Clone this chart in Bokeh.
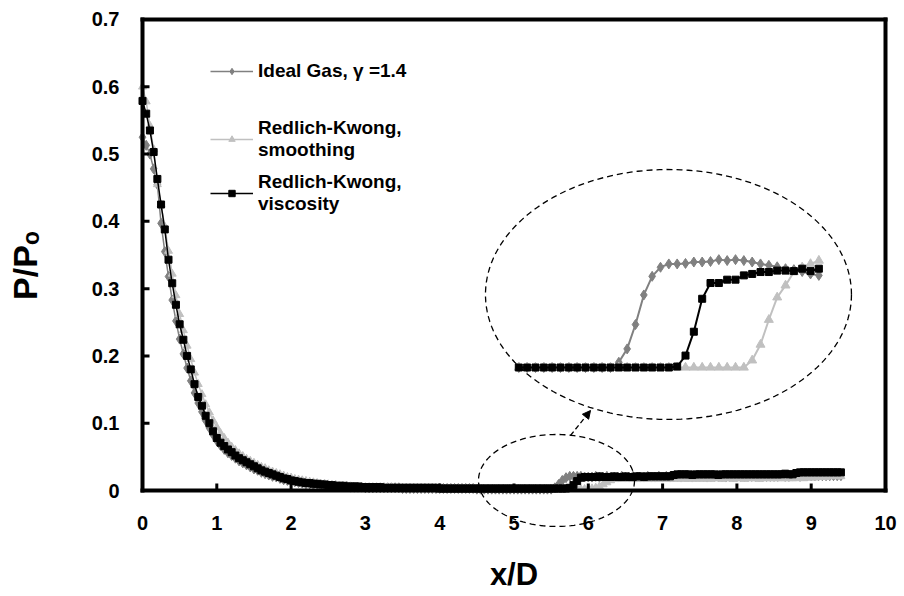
import numpy as np
from bokeh.plotting import figure
from bokeh.models import (Range1d, FixedTicker, CustomJSTickFormatter, Legend, LegendItem,
                          PolyAnnotation, Arrow, NormalHead)
from bokeh.embed import file_html
from bokeh.resources import INLINE

# ---------------- data ----------------
x_over_d = [
    0.0, 0.05, 0.1, 0.15, 0.2, 0.25, 0.3, 0.35, 0.4, 0.45,
    0.5, 0.55, 0.6, 0.65, 0.7, 0.75, 0.8, 0.85, 0.9, 0.95,
    1.0, 1.05, 1.1, 1.15, 1.2, 1.25, 1.3, 1.35, 1.4, 1.45,
    1.5, 1.55, 1.6, 1.65, 1.7, 1.75, 1.8, 1.85, 1.9, 1.95,
    2.0, 2.05, 2.1, 2.15, 2.2, 2.25, 2.3, 2.35, 2.4, 2.45,
    2.5, 2.55, 2.6, 2.65, 2.7, 2.75, 2.8, 2.85, 2.9, 2.95,
    3.0, 3.05, 3.1, 3.15, 3.2, 3.25, 3.3, 3.35, 3.4, 3.45,
    3.5, 3.55, 3.6, 3.65, 3.7, 3.75, 3.8, 3.85, 3.9, 3.95,
    4.0, 4.05, 4.1, 4.15, 4.2, 4.25, 4.3, 4.35, 4.4, 4.45,
    4.5, 4.55, 4.6, 4.65, 4.7, 4.75, 4.8, 4.85, 4.9, 4.95,
    5.0, 5.05, 5.1, 5.15, 5.2, 5.25, 5.3, 5.35, 5.4, 5.45,
    5.5, 5.55, 5.6, 5.65, 5.7, 5.75, 5.8, 5.85, 5.9, 5.95,
    6.0, 6.05, 6.1, 6.15, 6.2, 6.25, 6.3, 6.35, 6.4, 6.45,
    6.5, 6.55, 6.6, 6.65, 6.7, 6.75, 6.8, 6.85, 6.9, 6.95,
    7.0, 7.05, 7.1, 7.15, 7.2, 7.25, 7.3, 7.35, 7.4, 7.45,
    7.5, 7.55, 7.6, 7.65, 7.7, 7.75, 7.8, 7.85, 7.9, 7.95,
    8.0, 8.05, 8.1, 8.15, 8.2, 8.25, 8.3, 8.35, 8.4, 8.45,
    8.5, 8.55, 8.6, 8.65, 8.7, 8.75, 8.8, 8.85, 8.9, 8.95,
    9.0, 9.05, 9.1, 9.15, 9.2, 9.25, 9.3, 9.35, 9.4,
]

p_ideal_gas = [
    0.525, 0.513, 0.500, 0.478, 0.455, 0.397, 0.355, 0.318, 0.283, 0.252,
    0.225, 0.203, 0.182, 0.163, 0.145, 0.130, 0.117, 0.104, 0.093, 0.083,
    0.074, 0.067, 0.061, 0.056, 0.052, 0.048, 0.044, 0.041, 0.038, 0.035,
    0.032, 0.030, 0.027, 0.025, 0.023, 0.021, 0.020, 0.018, 0.016, 0.015,
    0.014, 0.013, 0.012, 0.011, 0.010, 0.010, 0.009, 0.009, 0.008, 0.008,
    0.007, 0.007, 0.007, 0.006, 0.006, 0.006, 0.005, 0.005, 0.005, 0.005,
    0.004, 0.004, 0.004, 0.004, 0.004, 0.004, 0.004, 0.004, 0.004, 0.004,
    0.003, 0.003, 0.003, 0.003, 0.003, 0.003, 0.003, 0.003, 0.003, 0.003,
    0.003, 0.003, 0.003, 0.003, 0.003, 0.003, 0.003, 0.003, 0.003, 0.003,
    0.002, 0.002, 0.002, 0.002, 0.002, 0.002, 0.002, 0.002, 0.002, 0.002,
    0.002, 0.002, 0.002, 0.002, 0.002, 0.002, 0.002, 0.002, 0.002, 0.002,
    0.002, 0.004, 0.009, 0.015, 0.019, 0.021, 0.021, 0.021, 0.021, 0.020,
    0.020, 0.020, 0.021, 0.020, 0.020, 0.021, 0.020, 0.020, 0.020, 0.021,
    0.020, 0.020, 0.021, 0.020, 0.020, 0.020, 0.021, 0.020, 0.020, 0.021,
    0.020, 0.021, 0.020, 0.021, 0.021, 0.020, 0.021, 0.021, 0.020, 0.021,
    0.021, 0.021, 0.020, 0.021, 0.021, 0.021, 0.021, 0.020, 0.021, 0.021,
    0.021, 0.021, 0.021, 0.021, 0.021, 0.021, 0.021, 0.021, 0.021, 0.021,
    0.021, 0.021, 0.022, 0.021, 0.021, 0.022, 0.022, 0.021, 0.022, 0.022,
    0.022, 0.022, 0.022, 0.022, 0.022, 0.022, 0.022, 0.022, 0.022,
]

p_rk_smoothing = [
    0.600, 0.578, 0.542, 0.507, 0.455, 0.425, 0.392, 0.356, 0.322, 0.290,
    0.262, 0.238, 0.215, 0.195, 0.175, 0.158, 0.143, 0.128, 0.116, 0.104,
    0.094, 0.085, 0.078, 0.071, 0.065, 0.060, 0.055, 0.051, 0.047, 0.044,
    0.041, 0.038, 0.035, 0.033, 0.030, 0.028, 0.026, 0.024, 0.022, 0.020,
    0.019, 0.017, 0.016, 0.015, 0.014, 0.013, 0.012, 0.011, 0.010, 0.010,
    0.009, 0.008, 0.008, 0.007, 0.007, 0.006, 0.006, 0.005, 0.005, 0.004,
    0.004, 0.004, 0.004, 0.004, 0.004, 0.004, 0.004, 0.004, 0.003, 0.003,
    0.003, 0.003, 0.003, 0.003, 0.003, 0.003, 0.003, 0.003, 0.003, 0.003,
    0.002, 0.002, 0.002, 0.002, 0.002, 0.002, 0.002, 0.002, 0.002, 0.002,
    0.002, 0.002, 0.002, 0.002, 0.002, 0.002, 0.002, 0.002, 0.002, 0.002,
    0.002, 0.002, 0.002, 0.002, 0.002, 0.002, 0.002, 0.002, 0.002, 0.002,
    0.002, 0.002, 0.002, 0.002, 0.002, 0.002, 0.002, 0.002, 0.002, 0.002,
    0.002, 0.003, 0.004, 0.006, 0.009, 0.012, 0.015, 0.017, 0.017, 0.017,
    0.017, 0.018, 0.017, 0.017, 0.018, 0.017, 0.017, 0.018, 0.017, 0.017,
    0.018, 0.017, 0.017, 0.018, 0.017, 0.018, 0.017, 0.017, 0.018, 0.017,
    0.018, 0.017, 0.018, 0.017, 0.018, 0.018, 0.017, 0.018, 0.018, 0.017,
    0.018, 0.018, 0.017, 0.018, 0.018, 0.018, 0.017, 0.018, 0.018, 0.018,
    0.018, 0.018, 0.018, 0.018, 0.018, 0.018, 0.018, 0.019, 0.018, 0.019,
    0.019, 0.019, 0.020, 0.020, 0.020, 0.021, 0.021, 0.021, 0.021,
]

p_rk_viscosity = [
    0.579, 0.560, 0.535, 0.503, 0.463, 0.425, 0.388, 0.343, 0.308, 0.276,
    0.247, 0.224, 0.200, 0.180, 0.158, 0.139, 0.126, 0.111, 0.100, 0.088,
    0.078, 0.071, 0.066, 0.061, 0.057, 0.052, 0.048, 0.045, 0.042, 0.039,
    0.036, 0.033, 0.030, 0.028, 0.026, 0.024, 0.022, 0.020, 0.018, 0.017,
    0.015, 0.014, 0.013, 0.012, 0.011, 0.011, 0.010, 0.010, 0.009, 0.009,
    0.008, 0.008, 0.007, 0.007, 0.007, 0.006, 0.006, 0.006, 0.006, 0.005,
    0.005, 0.005, 0.005, 0.005, 0.005, 0.004, 0.004, 0.004, 0.004, 0.004,
    0.004, 0.004, 0.004, 0.004, 0.004, 0.004, 0.004, 0.004, 0.004, 0.004,
    0.003, 0.003, 0.003, 0.003, 0.003, 0.003, 0.003, 0.003, 0.003, 0.003,
    0.003, 0.003, 0.003, 0.003, 0.003, 0.003, 0.003, 0.003, 0.003, 0.003,
    0.003, 0.003, 0.003, 0.003, 0.003, 0.003, 0.003, 0.003, 0.003, 0.003,
    0.003, 0.003, 0.003, 0.003, 0.003, 0.004, 0.008, 0.014, 0.019, 0.020,
    0.020, 0.020, 0.020, 0.021, 0.020, 0.020, 0.020, 0.021, 0.020, 0.020,
    0.021, 0.020, 0.020, 0.021, 0.021, 0.020, 0.021, 0.021, 0.021, 0.021,
    0.021, 0.021, 0.021, 0.023, 0.024, 0.024, 0.024, 0.024, 0.023, 0.024,
    0.024, 0.024, 0.024, 0.024, 0.024, 0.023, 0.024, 0.024, 0.024, 0.024,
    0.024, 0.024, 0.024, 0.024, 0.024, 0.024, 0.024, 0.024, 0.024, 0.024,
    0.024, 0.024, 0.024, 0.025, 0.024, 0.024, 0.026, 0.027, 0.027, 0.027,
    0.027, 0.027, 0.027, 0.027, 0.027, 0.027, 0.027, 0.027, 0.027,
]

# magnified view (inset) of the shock region, x/D = 5.0 ... 6.8
inset_x_over_d = [
    5.0, 5.05, 5.1, 5.15, 5.2, 5.25, 5.3, 5.35, 5.4, 5.45,
    5.5, 5.55, 5.6, 5.65, 5.7, 5.75, 5.8, 5.85, 5.9, 5.95,
    6.0, 6.05, 6.1, 6.15, 6.2, 6.25, 6.3, 6.35, 6.4, 6.45,
    6.5, 6.55, 6.6, 6.65, 6.7, 6.75, 6.8,
]
inset_ideal_gas = [
    0.003, 0.003, 0.003, 0.003, 0.003, 0.003, 0.003, 0.003, 0.003, 0.003,
    0.003, 0.003, 0.0041, 0.0069, 0.0120, 0.0182, 0.0221, 0.0240, 0.0247, 0.0247,
    0.0248, 0.0251, 0.0251, 0.0252, 0.0256, 0.0254, 0.0256, 0.0254, 0.0251, 0.0247,
    0.0244, 0.0241, 0.0237, 0.0235, 0.0231, 0.0226, 0.0223,
]
inset_rk_smoothing = [
    0.003, 0.003, 0.003, 0.003, 0.003, 0.003, 0.003, 0.003, 0.003, 0.003,
    0.003, 0.003, 0.003, 0.003, 0.003, 0.003, 0.003, 0.003, 0.003, 0.003,
    0.003, 0.003, 0.003, 0.003, 0.003, 0.003, 0.003, 0.003, 0.0045, 0.0078,
    0.0130, 0.0177, 0.0202, 0.0230, 0.0240, 0.0247, 0.0254,
]
inset_rk_viscosity = [
    0.003, 0.003, 0.003, 0.003, 0.003, 0.003, 0.003, 0.003, 0.003, 0.003,
    0.003, 0.003, 0.003, 0.003, 0.003, 0.003, 0.003, 0.003, 0.003, 0.0032,
    0.0055, 0.0105, 0.0174, 0.0207, 0.0207, 0.0214, 0.0214, 0.0223, 0.0226, 0.0230,
    0.0230, 0.0233, 0.0233, 0.0232, 0.0237, 0.0232, 0.0237,
]

x_ticks = [0, 1, 2, 3, 4, 5, 6, 7, 8, 9, 10]
y_ticks = [0, 0.1, 0.2, 0.3, 0.4, 0.5, 0.6, 0.7]

series_labels = ["Ideal Gas, \u03b3 =1.4", "Redlich-Kwong,\nsmoothing", "Redlich-Kwong,\nviscosity"]

for arr in (p_ideal_gas, p_rk_smoothing, p_rk_viscosity):
    assert len(arr) == len(x_over_d), len(arr)
for arr in (inset_ideal_gas, inset_rk_smoothing, inset_rk_viscosity):
    assert len(arr) == len(inset_x_over_d), len(arr)

# ---------------- figure ----------------
FONT = "Liberation Sans"
X0, X1 = x_ticks[0], x_ticks[-1]
Y0, Y1 = y_ticks[0], y_ticks[-1]
PX_PER_X = 74.3      # screen px per x/D unit
PX_PER_Y = 672.9     # screen px per P/Po unit
W, H = 904, 596
LEFT_PX, BOTTOM_PX = 142, 490   # where (0, 0) sits on the canvas

# The frame covers the whole canvas: axes are pinned at 0 so that the dashed
# ellipse may cross the tick labels, just as in the original.
x_range = Range1d(X0 - LEFT_PX / PX_PER_X, X0 + (W - LEFT_PX) / PX_PER_X)
y_range = Range1d(Y0 - (H - BOTTOM_PX) / PX_PER_Y, Y0 + BOTTOM_PX / PX_PER_Y)
p = figure(width=W, height=H, x_range=x_range, y_range=y_range,
           output_backend="svg", toolbar_location=None,
           min_border_left=0, min_border_right=0, min_border_top=0, min_border_bottom=0)
p.background_fill_color = "white"
p.border_fill_color = "white"
p.xgrid.visible = False
p.ygrid.visible = False
p.outline_line_color = None

# inset ranges (magnified view placed inside the frame)
p.extra_x_ranges = {"inset": Range1d(1.8908, 7.3137)}
p.extra_y_ranges = {"inset": Range1d(-0.044978, 0.079891)}

IDEAL_C = "#808080"
SMOOTH_C = "#C0C0C0"
VISC_C = "#000000"

# main curves
l1 = p.line(x_over_d, p_ideal_gas, line_color=IDEAL_C, line_width=1.5)
m1 = p.scatter(x_over_d, p_ideal_gas, marker="diamond", size=10,
               fill_color=IDEAL_C, line_color=IDEAL_C)
l2 = p.line(x_over_d, p_rk_smoothing, line_color=SMOOTH_C, line_width=1.5)
m2 = p.scatter(x_over_d, p_rk_smoothing, marker="triangle", size=8,
               fill_color=SMOOTH_C, line_color=SMOOTH_C)
l3 = p.line(x_over_d, p_rk_viscosity, line_color=VISC_C, line_width=1.5)
m3 = p.scatter(x_over_d, p_rk_viscosity, marker="square", size=7,
               fill_color=VISC_C, line_color=VISC_C)

# inset curves
kw = dict(x_range_name="inset", y_range_name="inset")
p.line(inset_x_over_d, inset_ideal_gas, line_color=IDEAL_C, line_width=2, **kw)
p.scatter(inset_x_over_d, inset_ideal_gas, marker="diamond", size=10,
          fill_color=IDEAL_C, line_color=IDEAL_C, **kw)
p.line(inset_x_over_d, inset_rk_smoothing, line_color=SMOOTH_C, line_width=2, **kw)
p.scatter(inset_x_over_d, inset_rk_smoothing, marker="triangle", size=9,
          fill_color=SMOOTH_C, line_color=SMOOTH_C, **kw)
p.line(inset_x_over_d, inset_rk_viscosity, line_color=VISC_C, line_width=2, **kw)
p.scatter(inset_x_over_d, inset_rk_viscosity, marker="square", size=7,
          fill_color=VISC_C, line_color=VISC_C, **kw)

# dashed ellipses + arrow (annotations)
t = np.linspace(0, 2 * np.pi, 160)
big_c, big_w, big_h = (7.079, 0.2913), 4.926, 0.3715
small_c, small_w, small_h = (5.572, 0.0149), 2.10, 0.1367
for (cx, cy), w, h in ((big_c, big_w, big_h), (small_c, small_w, small_h)):
    p.add_layout(PolyAnnotation(xs=list(cx + w / 2 * np.cos(t)), ys=list(cy + h / 2 * np.sin(t)),
                                fill_alpha=0, line_color="black", line_alpha=1,
                                line_width=1.3, line_dash="6 4"))
p.add_layout(Arrow(end=NormalHead(size=8, fill_color="black", line_color="black", line_width=1),
                   x_start=5.76, y_start=0.0817, x_end=6.03, y_end=0.1189,
                   line_color="black", line_width=1.3, line_dash="5 3"))

# plot box and inward ticks drawn as filled bars (thickness in px)
BOX_PX, TICK_W_PX, TICK_PX = 4, 3, 7
hx, hy = BOX_PX / 2 / PX_PER_X, BOX_PX / 2 / PX_PER_Y
p.quad(left=[X0 - hx, X0 - hx, X0 - hx, X1 - hx],
       right=[X1 + hx, X1 + hx, X0 + hx, X1 + hx],
       bottom=[Y0 - hy, Y1 - hy, Y0 - hy, Y0 - hy],
       top=[Y0 + hy, Y1 + hy, Y1 + hy, Y1 + hy],
       fill_color="black", line_color=None)
tx, ty = TICK_W_PX / 2 / PX_PER_X, TICK_W_PX / 2 / PX_PER_Y
p.quad(left=[v - tx for v in x_ticks], right=[v + tx for v in x_ticks],
       bottom=[Y0] * len(x_ticks), top=[Y0 + TICK_PX / PX_PER_Y] * len(x_ticks),
       fill_color="black", line_color=None)
p.quad(left=[X0] * len(y_ticks), right=[X0 + TICK_PX / PX_PER_X] * len(y_ticks),
       bottom=[v - ty for v in y_ticks], top=[v + ty for v in y_ticks],
       fill_color="black", line_color=None)

# axes (labels only; pinned at 0)
xax = p.xaxis[0]
yax = p.yaxis[0]
xax.fixed_location = Y0
yax.fixed_location = X0
xax.bounds = (X0, X1)
yax.bounds = (-0.031, Y1)   # centres the y title where the original has it
for ax in (xax, yax):
    ax.axis_line_color = None
    ax.major_tick_line_color = None
    ax.minor_tick_line_color = None
    ax.major_tick_in = 0
    ax.major_tick_out = 0
    ax.major_label_text_font = FONT
    ax.major_label_text_font_style = "bold"
    ax.major_label_text_font_size = "20px"
    ax.major_label_text_color = "black"
    ax.axis_label_text_font = FONT
    ax.axis_label_text_font_style = "bold"
    ax.axis_label_text_color = "black"

xax.ticker = FixedTicker(ticks=x_ticks)
yax.ticker = FixedTicker(ticks=y_ticks)
yax.formatter = CustomJSTickFormatter(code="return tick === 0 ? '0' : tick.toFixed(1);")
xax.major_label_standoff = 25
yax.major_label_standoff = 23
xax.axis_label = "x/D"
xax.axis_label_text_font_size = "31px"
xax.axis_label_standoff = 24
yax.axis_label = "P/P\u2092"
yax.axis_label_text_font_size = "34px"
yax.axis_label_standoff = 45

# legends
def style_legend(lg):
    lg.border_line_alpha = 0
    lg.background_fill_alpha = 0
    lg.padding = 0
    lg.margin = 0
    lg.glyph_width = 43
    lg.glyph_height = 16
    lg.label_height = 24
    lg.label_standoff = 5
    lg.spacing = 10
    lg.label_text_font = FONT
    lg.label_text_font_style = "bold"
    lg.label_text_font_size = "19px"
    lg.label_text_line_height = 1.26
    lg.label_text_color = "black"

legA = Legend(items=[LegendItem(label=series_labels[0], renderers=[l1, m1])], location=(210, 513))
legB = Legend(items=[LegendItem(label=series_labels[1], renderers=[l2, m2]),
                     LegendItem(label=series_labels[2], renderers=[l3, m3])], location=(210, 381))
for lg in (legA, legB):
    style_legend(lg)
    p.add_layout(lg, "center")

open("out.html", "w").write(file_html(p, INLINE))
